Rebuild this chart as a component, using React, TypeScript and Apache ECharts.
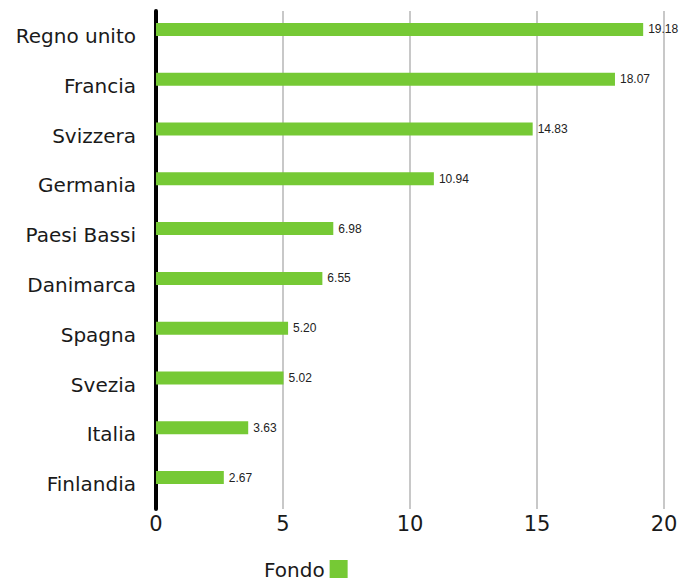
import React, { useEffect, useRef } from "react";
import * as echarts from "echarts";

const categories = [
  "Regno unito",
  "Francia",
  "Svizzera",
  "Germania",
  "Paesi Bassi",
  "Danimarca",
  "Spagna",
  "Svezia",
  "Italia",
  "Finlandia",
];
const fondoValues = [19.18, 18.07, 14.83, 10.94, 6.98, 6.55, 5.2, 5.02, 3.63, 2.67];
const xTicks = [0, 5, 10, 15, 20];

export default function App() {
  const ref = useRef<HTMLDivElement>(null);
  useEffect(() => {
    const chart = echarts.init(ref.current!, null, { renderer: "svg" });
    chart.setOption({
      animation: false,
      textStyle: { fontFamily: "DejaVu Sans" },
      grid: { left: 156, right: 35, top: 11, bottom: 69, containLabel: false },
      legend: {
        data: [{ name: "Fondo", icon: "rect" }],
        left: 259,
        top: 555,
        align: "right",
        itemWidth: 18,
        itemHeight: 20,
        itemGap: 8,
        textStyle: { fontSize: 20, color: "#1a1a1a", fontFamily: "DejaVu Sans" },
      },
      xAxis: {
        type: "value",
        min: xTicks[0],
        max: xTicks[xTicks.length - 1],
        interval: 5,
        axisLine: { show: false },
        axisTick: { show: false },
        axisLabel: { fontSize: 21, color: "#1a1a1a", margin: 4, fontFamily: "DejaVu Sans" },
        splitLine: { show: true, lineStyle: { color: "#c8c8c8", width: 2 } },
      },
      yAxis: {
        type: "category",
        data: categories,
        inverse: true,
        axisLine: { show: true, lineStyle: { color: "#000", width: 4 } },
        axisTick: { show: false },
        axisLabel: { fontSize: 20, color: "#1a1a1a", margin: 20, fontFamily: "DejaVu Sans" },
      },
      series: [
        {
          name: "Fondo",
          type: "bar",
          data: fondoValues,
          barWidth: 13,
          barGap: "0%",
          itemStyle: { color: "#76c935" },
          label: {
            show: true,
            position: "right",
            distance: 5,
            fontSize: 12,
            color: "#222",
            fontFamily: "Liberation Sans",
            formatter: (p: any) => p.value.toFixed(2),
          },
        },
        {
          name: "_spacer",
          type: "bar",
          data: categories.map(() => null),
          barWidth: 13,
          barGap: "0%",
        },
      ],
    });
    return () => chart.dispose();
  }, []);
  return (
    <div
      ref={ref}
      style={{ position: "absolute", left: 0, top: 0, width: 699, height: 578 }}
    />
  );
}
